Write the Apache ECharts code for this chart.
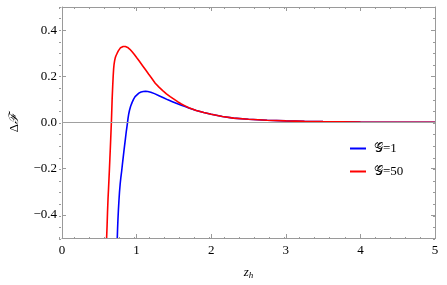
<!DOCTYPE html>
<html><head><meta charset="utf-8">
<script src="https://cdn.jsdelivr.net/npm/echarts@6/dist/echarts.min.js"></script>
<style>html,body{margin:0;padding:0;background:#fff}#c{width:447px;height:285px}</style>
</head><body><div id="c"></div>
<script>
// data
const redZ = [0.598,0.604,0.610,0.617,0.624,0.630,0.636,0.642,0.648,0.653,0.658,0.662,0.667,0.672,0.680,0.686,0.692,0.698,0.705,0.713,0.722,0.731,0.741,0.755,0.770,0.785,0.80,0.82,0.85,0.88,0.91,0.94,0.97,1.00,1.04,1.08,1.12,1.16,1.20,1.25,1.30,1.35,1.40,1.45,1.50,1.55,1.60,1.65,1.70,1.80,1.90,2.00,2.15,2.30,2.50,2.75,3.00,3.25,3.50,4.00,4.50,5.00];
const redF = [-0.50,-0.45,-0.39,-0.33,-0.285,-0.243,-0.20,-0.155,-0.11,-0.07,-0.03,0.00,0.05,0.10,0.16,0.20,0.232,0.252,0.267,0.279,0.288,0.295,0.301,0.310,0.318,0.324,0.327,0.329,0.329,0.325,0.317,0.306,0.294,0.281,0.264,0.246,0.228,0.210,0.193,0.170,0.153,0.138,0.124,0.112,0.101,0.090,0.080,0.072,0.064,0.052,0.043,0.036,0.026,0.019,0.014,0.0095,0.007,0.005,0.0037,0.0022,0.0014,0.001];
const blueZ = [0.741,0.745,0.750,0.756,0.763,0.771,0.780,0.790,0.800,0.810,0.820,0.830,0.840,0.850,0.862,0.875,0.885,0.895,0.905,0.920,0.940,0.960,0.980,1.000,1.03,1.06,1.09,1.12,1.15,1.19,1.24,1.30,1.36,1.42,1.48,1.54,1.60,1.65,1.70,1.80,1.90,2.00,2.15,2.30,2.50,2.75,3.00,3.25,3.50,4.00,4.50,5.00];
const blueF = [-0.50,-0.46,-0.42,-0.38,-0.34,-0.30,-0.265,-0.235,-0.21,-0.18,-0.152,-0.124,-0.097,-0.071,-0.038,-0.008,0.018,0.038,0.053,0.070,0.087,0.101,0.112,0.119,0.127,0.132,0.134,0.135,0.134,0.131,0.125,0.116,0.107,0.098,0.090,0.082,0.075,0.069,0.063,0.052,0.043,0.036,0.026,0.019,0.014,0.0095,0.007,0.005,0.0037,0.0022,0.0014,0.001];
const seriesNames = ['𝒢=1','𝒢=50'];
const xTicks = [0,1,2,3,4,5];
const yTicks = [-0.4,-0.2,0,0.2,0.4];
const yMinor = [];
for (let i = -10; i <= 10; i++) yMinor.push(+(i*0.05).toFixed(2));
const xMinor = [];
for (let i = 0; i <= 25; i++) xMinor.push(+(i*0.2).toFixed(1));

const frame = '#9a9a9a';
const font = 'Liberation Serif';
const chart = echarts.init(document.getElementById('c'));
function xa(grid, pos, vals, len, labels, line){
  return {type:'value', min:0, max:5, position:pos, gridIndex:grid,
    axisLine:{show:line, onZero:false, lineStyle:{color:frame, width:1}},
    axisTick:{show:true, inside:true, length:len, customValues:vals, lineStyle:{color:frame}},
    axisLabel:labels?{show:true, customValues:xTicks, color:'#000', fontFamily:font, fontSize:13, margin:6}:{show:false},
    splitLine:{show:false}};
}
function ya(grid, pos, vals, len, labels, line){
  return {type:'value', min:-0.5, max:0.5, position:pos, gridIndex:grid,
    axisLine:{show:line, onZero:false, lineStyle:{color:frame, width:1}},
    axisTick:{show:true, inside:true, length:len, customValues:vals, lineStyle:{color:frame}},
    axisLabel:labels?{show:true, customValues:yTicks, color:'#000', fontFamily:font, fontSize:13, margin:5,
      formatter:v=>(v<0?'\u2212':'')+Math.abs(v).toFixed(1)}:{show:false},
    splitLine:{show:false}};
}
const xAxes = [xa(0,'bottom', xTicks, 4, true, true), xa(0,'top', xTicks, 4, false, true),
               xa(1,'bottom', xMinor, 2, false, false), xa(1,'top', xMinor, 2, false, false)];
xAxes[0].name = '{i|z}{s|h}';
xAxes[0].nameLocation = 'middle';
xAxes[0].nameGap = 27;
xAxes[0].nameTextStyle = {rich:{i:{fontFamily:font, fontStyle:'italic', fontSize:13, color:'#000'}, s:{fontFamily:font, fontStyle:'italic', fontSize:9, color:'#000', verticalAlign:'bottom', padding:[6,0,0,0]}}};
const yAxes = [ya(0,'left', yTicks, 4, true, true), ya(0,'right', yTicks, 4, false, true),
               ya(1,'left', yMinor, 2, false, false), ya(1,'right', yMinor, 2, false, false)];
yAxes[0].name = '{n|Δ}{i|ℱ}';
yAxes[0].nameLocation = 'middle';
yAxes[0].nameRotate = 90;
yAxes[0].nameGap = 41;
yAxes[0].nameTextStyle = {rich:{n:{fontFamily:font, fontSize:13, color:'#000'}, i:{fontFamily:font, fontStyle:'italic', fontSize:13, color:'#000'}}};

chart.setOption({
  animation:false,
  grid:[{left:59, top:7, width:376, height:232, containLabel:false},
        {left:59, top:7, width:376, height:232, containLabel:false}],
  legend:{orient:'vertical', left:350, top:142, padding:0, itemWidth:16, itemHeight:2, itemGap:10, icon:'rect',
    textStyle:{fontFamily:font, fontSize:13, color:'#000', padding:[0,0,0,3]},
    data:seriesNames},
  xAxis:xAxes,
  yAxis:yAxes,
  series:[
    {name:seriesNames[0], type:'line', xAxisIndex:0, yAxisIndex:0, showSymbol:false, smooth:false,
     data:blueZ.map((z,i)=>[z,blueF[i]]), lineStyle:{color:'#0000ff', width:1.6}, itemStyle:{color:'#0000ff'}, clip:true,
     markLine:{silent:true, symbol:'none', label:{show:false}, lineStyle:{color:'#a0a0a0', width:1, type:'solid'}, data:[{yAxis:0}]}},
    {name:seriesNames[1], type:'line', xAxisIndex:0, yAxisIndex:0, showSymbol:false, smooth:false,
     data:redZ.map((z,i)=>[z,redF[i]]), lineStyle:{color:'#ff0000', width:1.6}, itemStyle:{color:'#ff0000'}, clip:true}
  ]
});
</script></body></html>
